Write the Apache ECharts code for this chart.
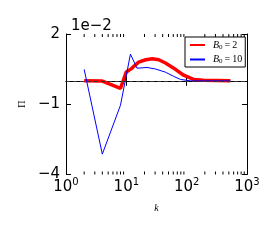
<!DOCTYPE html>
<html><head><meta charset="utf-8">
<script src="https://cdn.jsdelivr.net/npm/echarts@6/dist/echarts.min.js"></script>
<style>html,body{margin:0;padding:0;background:#fff}#c{width:280px;height:240px}</style>
</head><body><div id="c"></div>
<script>
// values of Π in units of 1e-2
const kRed = [2, 4, 8, 10, 12, 13.3, 16, 21, 27, 34.5, 44.5, 61, 89, 130, 190, 530];
const piRed = [0, -0.01, -0.32, 0.38, 0.51, 0.62, 0.8, 0.9, 0.94, 0.9, 0.76, 0.54, 0.24, 0.06, 0.02, 0];
const kBlue = [2, 4, 8, 11.7, 15, 22, 30, 44.5, 61, 79, 116, 530];
const piBlue = [0.49, -3.13, -1.04, 1.14, 0.54, 0.57, 0.51, 0.37, 0.19, 0.06, 0, 0];
const seriesNames = ['B0=2', 'B0=10'];
const yTicks = [-4, -1, 2];
const xTicks = [1, 10, 100, 1000];
const minorK = [2,3,4,5,6,7,8,9,20,30,40,50,60,70,80,90,200,300,400,500,600,700,800,900];

const fmtY = v => v < 0 ? '\u2212' + Math.abs(v) : String(v);
const fmtX = v => '{b|10}{e|' + Math.round(Math.log10(v)) + '}';
const legendFmt = n => n === 'B0=2' ? '{i|B}{s|0}{n|\u2009=\u20092}' : '{i|B}{s|0}{n|\u2009=\u200910}';

const chart = echarts.init(document.getElementById('c'), null, {renderer: 'canvas'});
const tickFont = {fontFamily: 'DejaVu Sans', fontSize: 15, color: '#000'};
const common = {
  type: 'log', min: 1, max: 1000, logBase: 10,
  axisLine: {show: true, lineStyle: {color: '#000', width: 1}},
  axisTick: {show: true, inside: true, length: 5, lineStyle: {color: '#000'}},
  splitLine: {show: false}
};
chart.setOption({
  animation: false,
  backgroundColor: '#fff',
  title: {text: '1e\u22122', left: 66, top: 14, textStyle: {fontFamily: 'DejaVu Sans', fontSize: 15, fontWeight: 'normal', color: '#000'}},
  grid: {left: 66, top: 34, width: 181, height: 140.5, containLabel: false},
  legend: {
    orient: 'vertical', left: 185, top: 37, padding: [3, 3, 2, 4], itemGap: 4,
    itemWidth: 15, itemHeight: 10, borderColor: '#000', borderWidth: 1, borderRadius: 0,
    backgroundColor: '#fff', data: seriesNames, formatter: legendFmt,
    itemStyle: {opacity: 0},
    textStyle: {padding: [0, 0, 0, 3], rich: {
      i: {fontFamily: 'Liberation Serif', fontStyle: 'italic', fontSize: 10, color: '#000'},
      s: {fontFamily: 'Liberation Serif', fontSize: 7, color: '#000', padding: [4, 0, 0, 0]},
      n: {fontFamily: 'Liberation Serif', fontSize: 10, color: '#000'}
    }}
  },
  xAxis: [
    Object.assign({}, common, {position: 'bottom', name: 'k', nameLocation: 'middle', nameGap: 29,
      nameTextStyle: {fontFamily: 'Liberation Serif', fontStyle: 'italic', fontSize: 10, color: '#000'},
      axisLabel: {show: true, margin: 3, formatter: fmtX, rich: {
        b: {fontFamily: 'DejaVu Sans', fontSize: 15, color: '#000'},
        e: {fontFamily: 'DejaVu Sans', fontSize: 10, color: '#000', padding: [0, 0, 9, 0]}
      }}}),
    Object.assign({}, common, {position: 'top', axisLabel: {show: false}})
  ],
  yAxis: [
    {type: 'value', min: -4, max: 2, position: 'left',
     name: '\u03a0', nameLocation: 'middle', nameGap: 38, nameRotate: 90,
     nameTextStyle: {fontFamily: 'Liberation Serif', fontSize: 10, color: '#000'},
     axisLine: {show: true, lineStyle: {color: '#000'}},
     axisTick: {show: true, inside: true, length: 5, customValues: yTicks, lineStyle: {color: '#000'}},
     axisLabel: Object.assign({margin: 6, customValues: yTicks, formatter: fmtY}, tickFont),
     splitLine: {show: false}},
    {type: 'value', min: -4, max: 2, position: 'right',
     axisLine: {show: true, lineStyle: {color: '#000'}},
     axisTick: {show: true, inside: true, length: 5, customValues: yTicks, lineStyle: {color: '#000'}},
     axisLabel: {show: false}, splitLine: {show: false}}
  ],
  series: [
    {name: 'B0=2', type: 'line', symbol: 'none', z: 2,
     data: kRed.map((k, i) => [k, piRed[i]]),
     lineStyle: {color: '#ff0000', width: 3.5}, itemStyle: {color: '#ff0000'},
     markLine: {silent: true, symbol: 'none', label: {show: false},
       lineStyle: {color: '#333', type: [4, 3], width: 1}, data: [{yAxis: 0}]}},
    {name: 'B0=10', type: 'line', symbol: 'none', z: 3,
     data: kBlue.map((k, i) => [k, piBlue[i]]),
     lineStyle: {color: '#0000ff', width: 1}, itemStyle: {color: '#0000ff'}},
    {type: 'custom', silent: true, clip: false, z: 5,
     data: minorK.map(k => [k, -4]),
     renderItem: function (params, api) {
       const b = api.coord([api.value(0), -4]);
       const t = api.coord([api.value(0), 2]);
       const st = {stroke: '#000', lineWidth: 1};
       return {type: 'group', children: [
         {type: 'line', shape: {x1: b[0], y1: b[1], x2: b[0], y2: b[1] - 3}, style: st},
         {type: 'line', shape: {x1: t[0], y1: t[1], x2: t[0], y2: t[1] + 3}, style: st}
       ]};
     }}
  ]
});
</script></body></html>
